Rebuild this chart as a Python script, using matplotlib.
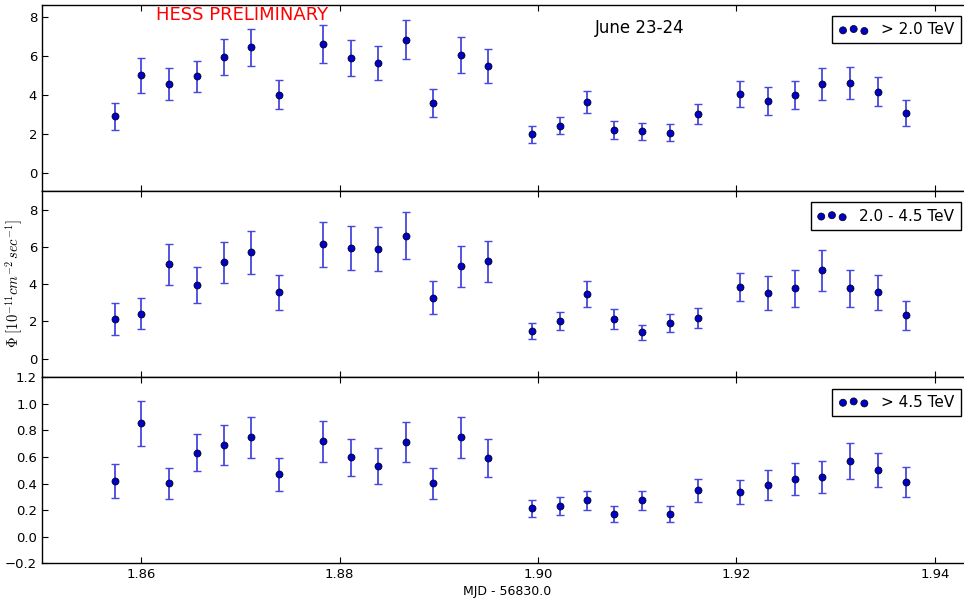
import numpy
import matplotlib
matplotlib.use('Agg')
import matplotlib.pyplot as plt

# run times, MJD - 56830.0
times = [1.8574, 1.8600, 1.8628, 1.8656, 1.8683, 1.8711, 1.8739,
         1.8783, 1.8811, 1.8839, 1.8867, 1.8894, 1.8922, 1.8950,
         1.8994, 1.9022, 1.9049, 1.9077, 1.9105, 1.9133, 1.9161,
         1.9204, 1.9232, 1.9259, 1.9286, 1.9315, 1.9343, 1.9371]

# flux above 2.0 TeV
fluxAll = [2.93, 5.03, 4.59, 4.98, 5.96, 6.46, 4.04, 6.63, 5.94, 5.67, 6.87, 3.63, 6.08, 5.51,
           2.00, 2.45, 3.65, 2.24, 2.16, 2.09, 3.05, 4.08, 3.72, 4.02, 4.59, 4.64, 4.20, 3.08]
errAll = [0.68, 0.90, 0.80, 0.80, 0.92, 0.95, 0.73, 0.96, 0.92, 0.88, 1.00, 0.72, 0.92, 0.88,
          0.42, 0.45, 0.57, 0.46, 0.45, 0.44, 0.52, 0.65, 0.71, 0.73, 0.80, 0.80, 0.75, 0.67]

# flux 2.0 - 4.5 TeV
fluxLow = [2.12, 2.40, 5.06, 3.96, 5.18, 5.70, 3.55, 6.13, 5.94, 5.88, 6.60, 3.28, 4.97, 5.22,
           1.49, 2.01, 3.46, 2.12, 1.42, 1.92, 2.17, 3.82, 3.52, 3.77, 4.74, 3.77, 3.55, 2.33]
errLow = [0.85, 0.83, 1.12, 0.98, 1.10, 1.15, 0.95, 1.23, 1.20, 1.20, 1.25, 0.90, 1.10, 1.12,
          0.44, 0.50, 0.68, 0.52, 0.41, 0.48, 0.52, 0.75, 0.92, 0.98, 1.09, 0.98, 0.95, 0.77]

# flux above 4.5 TeV
fluxHigh = [0.420, 0.853, 0.404, 0.632, 0.690, 0.748, 0.469, 0.718, 0.597, 0.532, 0.712, 0.404, 0.748, 0.592,
            0.213, 0.231, 0.273, 0.173, 0.273, 0.173, 0.349, 0.336, 0.389, 0.434, 0.447, 0.570, 0.504, 0.411]
errHigh = [0.127, 0.170, 0.117, 0.140, 0.150, 0.155, 0.124, 0.152, 0.137, 0.132, 0.152, 0.117, 0.153, 0.140,
           0.067, 0.070, 0.072, 0.060, 0.072, 0.062, 0.087, 0.092, 0.110, 0.120, 0.120, 0.133, 0.128, 0.115]

labels = ['> 2.0 TeV', '2.0 - 4.5 TeV', '> 4.5 TeV']
ylims = [(-0.9, 8.65), (-1.0, 9.0), (-0.2, 1.2)]

plt.rcParams['mathtext.fontset'] = 'cm'
plt.rcParams['font.size'] = 9


def panel(ax, flux, err, label, ylim):
    ax.errorbar(times, flux, yerr=err, fmt='none', ecolor='#4646e0', elinewidth=1.3,
                capsize=2.8, capthick=1.0, zorder=2)
    ax.scatter(times, flux, s=26, c='#0000c8', edgecolors='k', linewidths=0.5,
               label=label, zorder=3)
    ax.set_ylim(ylim)
    ax.set_xlim(1.85, 1.94375)
    ax.tick_params(direction='in', top=True, right=True, length=4, labelsize=9.5)
    for s in ax.spines.values():
        s.set_linewidth(1.0)
    leg = ax.legend(loc='upper right', scatterpoints=3, fontsize=11, fancybox=False,
                    framealpha=1, edgecolor='k', handletextpad=0.8, borderpad=0.4,
                    borderaxespad=0.75)
    leg.get_frame().set_linewidth(1.0)


fig, axes = plt.subplots(3, 1, sharex=True, figsize=(9.64, 6.0), dpi=100)
fig.subplots_adjust(left=0.0436, right=1.0083, top=0.992, bottom=0.061, hspace=0)

data = [(fluxAll, errAll), (fluxLow, errLow), (fluxHigh, errHigh)]
for i in range(3):
    panel(axes[i], data[i][0], data[i][1], labels[i], ylims[i])

axes[0].set_yticks(numpy.arange(0, 9, 2))
axes[1].set_yticks(numpy.arange(0, 9, 2))
axes[2].set_yticks(numpy.arange(-0.2, 1.21, 0.2))
axes[2].set_xticks([1.86, 1.88, 1.90, 1.92, 1.94])

axes[0].text(0.215, 0.995, 'HESS PRELIMINARY', color='red', fontsize=13,
             ha='center', va='top', transform=axes[0].transAxes)
axes[0].text(0.643, 0.877, 'June 23-24', color='k', fontsize=12,
             ha='center', va='center', transform=axes[0].transAxes)

axes[1].set_ylabel(r'$\Phi\ [10^{-11} cm^{-2}\, sec^{-1}]$', fontsize=10.5)
axes[1].yaxis.set_label_coords(-0.018, 0.5)
axes[2].set_xlabel('MJD - 56830.0', fontsize=9, labelpad=3)

fig.savefig('out.png', dpi=100)
